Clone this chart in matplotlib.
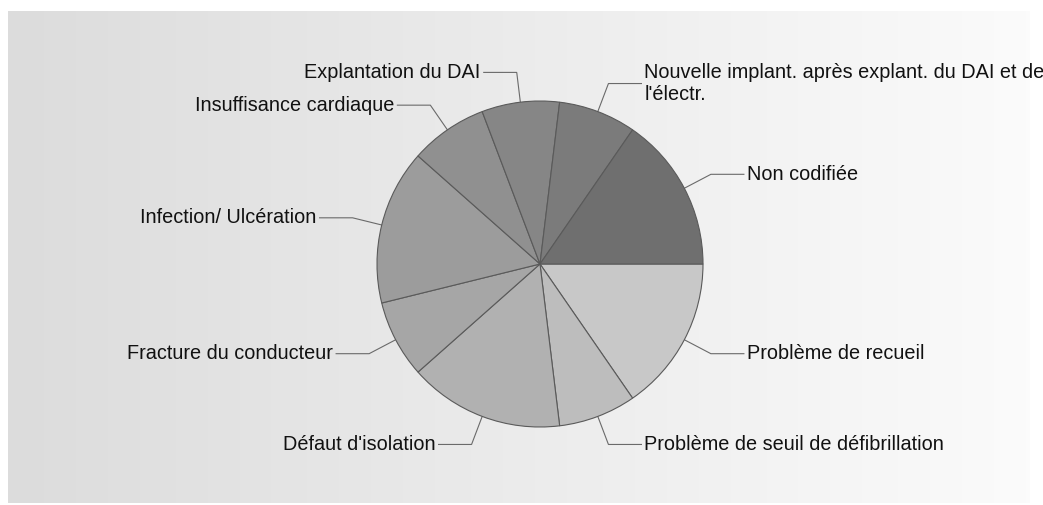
import textwrap
import numpy as np
import matplotlib
matplotlib.use("Agg")
import matplotlib.pyplot as plt
from matplotlib.colors import LinearSegmentedColormap

plt.rcParams['font.family'] = ['Liberation Sans', 'DejaVu Sans']

# data (counts), in drawing order: clockwise from 3 o'clock
labels = ["Problème de recueil",
          "Problème de seuil de défibrillation",
          "Défaut d'isolation",
          "Fracture du conducteur",
          "Infection/ Ulcération",
          "Insuffisance cardiaque",
          "Explantation du DAI",
          "Nouvelle implant. après explant. du DAI et de l'électr.",
          "Non codifiée"]
counts = [2, 1, 2, 1, 2, 1, 1, 1, 2]
colors = ["#c8c8c8", "#bdbdbd", "#b1b1b1", "#a6a6a6", "#9c9c9c",
          "#909090", "#868686", "#7b7b7b", "#6f6f6f"]

W, H = 1043, 505
cx, cy, r = 540, 264, 163
r_lab = 193      # elbow radius of the connectors
arm = 33         # horizontal part of the connector

fig = plt.figure(figsize=(W / 100, H / 100), dpi=100)
fig.patch.set_facecolor("white")
ax = fig.add_axes([0, 0, 1, 1])

wedges, _ = ax.pie(counts, colors=colors, startangle=0, counterclock=True,
                   center=(cx, cy), radius=r,
                   wedgeprops=dict(edgecolor="#5a5a5a", linewidth=0.8))
for w in wedges:
    w.set_zorder(3)

# background gradient panel
grad = LinearSegmentedColormap.from_list("bg", ["#dcdcdc", "#fbfbfb"])
ax.imshow(np.linspace(0, 1, 256)[None, :], cmap=grad, aspect="auto",
          extent=(8, 1030, 503, 11), zorder=0)

for w, lab in zip(wedges, labels):
    mid = np.deg2rad((w.theta1 + w.theta2) / 2)
    c, s = np.cos(mid), np.sin(mid)
    x0, y0 = cx + r * c, cy + r * s
    x1, y1 = cx + r_lab * c, cy + r_lab * s
    right = c >= 0
    x2 = x1 + arm if right else x1 - arm
    ax.plot([x0, x1, x2], [y0, y1, y1], color="#6a6a6a", lw=0.8,
            zorder=2, solid_joinstyle="miter")
    ax.text(x2 + (3 if right else -3), y1, textwrap.fill(lab, 45),
            ha="left" if right else "right", va="center",
            fontsize=14.3, color="#111111", linespacing=1.25, zorder=4)

ax.set_xlim(0, W)
ax.set_ylim(H, 0)
ax.set_aspect("auto")
ax.axis("off")

fig.savefig("out.png", dpi=100)
